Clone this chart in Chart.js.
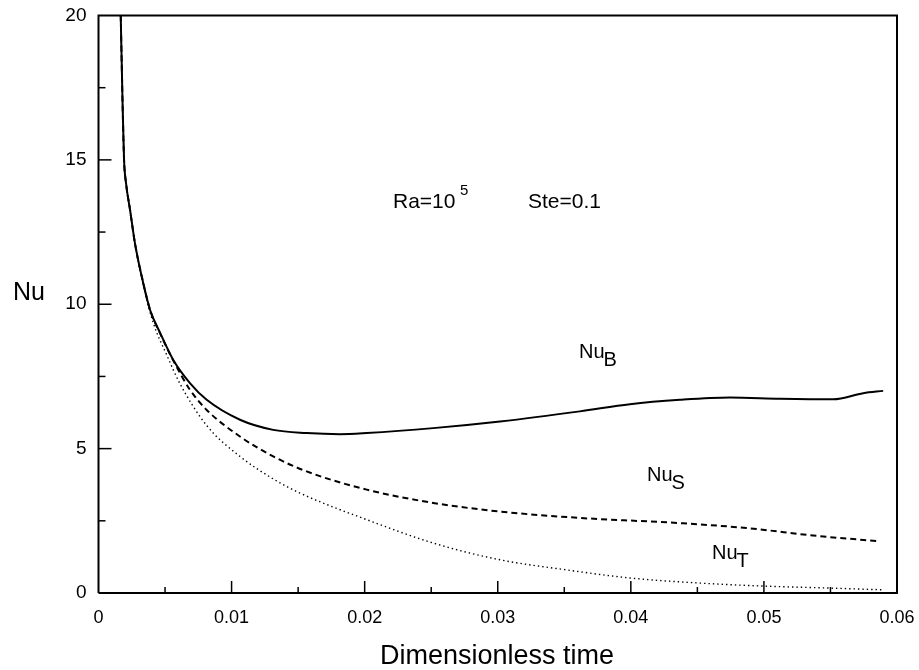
<!DOCTYPE html>
<html>
<head>
<meta charset="utf-8">
<script src="https://cdn.jsdelivr.net/npm/chart.js@4"></script>
<style>
  html, body { margin: 0; padding: 0; background: #fff; }
  #wrap { width: 919px; height: 670px; }
</style>
</head>
<body>
<div id="wrap"><canvas id="myChart"></canvas></div>
<script>
// DATA
const nuB_t = [0.00167, 0.00182, 0.00192, 0.00207, 0.00237, 0.00274, 0.00325, 0.00387, 0.00462, 0.00562, 0.00687, 0.00813, 0.01063, 0.01313, 0.01564, 0.01814, 0.02015, 0.02515, 0.03017, 0.03617, 0.03993, 0.04369, 0.04745, 0.0512, 0.05521, 0.05746, 0.05896];
const nuB = [20, 16.73, 15.0, 14.19, 13.27, 12.11, 10.96, 9.81, 9.02, 8.07, 7.27, 6.69, 6.0, 5.65, 5.54, 5.50, 5.54, 5.71, 5.94, 6.29, 6.54, 6.69, 6.77, 6.73, 6.71, 6.92, 7.0];

const nuS_t = [0.00167, 0.00182, 0.00192, 0.00207, 0.00237, 0.00274, 0.00325, 0.00387, 0.00462, 0.00562, 0.00687, 0.00813, 0.01063, 0.01313, 0.01564, 0.02015, 0.02515, 0.03017, 0.03617, 0.04369, 0.0487, 0.0537, 0.05872];
const nuS = [20, 16.73, 15.0, 14.19, 13.27, 12.11, 10.96, 9.81, 9.0, 8.05, 7.04, 6.34, 5.42, 4.73, 4.21, 3.58, 3.12, 2.82, 2.60, 2.42, 2.25, 1.99, 1.79];

const nuT_t = [0.00167, 0.00182, 0.00192, 0.00207, 0.00237, 0.00274, 0.00325, 0.00412, 0.00512, 0.00612, 0.00813, 0.01063, 0.01313, 0.01514, 0.02015, 0.02515, 0.03017, 0.03518, 0.03993, 0.04494, 0.04995, 0.05496, 0.05896];
const nuT = [20, 16.73, 15.0, 14.19, 13.27, 12.11, 10.9, 9.35, 8.25, 7.25, 5.8, 4.73, 3.95, 3.46, 2.54, 1.73, 1.15, 0.80, 0.52, 0.35, 0.24, 0.17, 0.11];

const xTickLabels = ['0', '0.01', '0.02', '0.03', '0.04', '0.05', '0.06'];
const yTickLabels = ['0', '5', '10', '15', '20'];

const pts = (xs, ys) => xs.map((x, i) => ({ x: x, y: ys[i] }));
const FONT = '"Liberation Sans", Arial, Helvetica, sans-serif';

// inward ticks, frame and text labels
const decor = {
  id: 'decor',
  afterDraw(chart) {
    const c = chart.ctx, a = chart.chartArea;
    const xs = chart.scales.x, ys = chart.scales.y;
    c.save();
    c.strokeStyle = '#000';
    c.lineWidth = 2;
    c.beginPath();
    c.moveTo(a.left, a.bottom); c.lineTo(a.left, a.top); c.lineTo(a.right, a.top);
    c.lineTo(a.right, a.bottom); c.lineTo(a.left, a.bottom);
    c.stroke();
    c.lineWidth = 1.5;
    for (let i = 1; i < 12; i++) {
      const px = xs.getPixelForValue(i * 0.005);
      const len = i % 2 === 0 ? 12 : 6;
      c.beginPath(); c.moveTo(px, a.bottom); c.lineTo(px, a.bottom - len); c.stroke();
    }
    for (let i = 1; i < 8; i++) {
      const py = ys.getPixelForValue(i * 2.5);
      const len = i % 2 === 0 ? 13 : 7;
      c.beginPath(); c.moveTo(a.left, py); c.lineTo(a.left + len, py); c.stroke();
    }
    c.fillStyle = '#000';
    c.textBaseline = 'middle';
    c.textAlign = 'center';
    c.font = '25px ' + FONT;
    c.fillText('Nu', 29, 293);
    c.font = '27px ' + FONT;
    c.fillText('Dimensionless time', 497, 657);
    c.textAlign = 'left';
    c.font = '21px ' + FONT;
    c.fillText('Ra=10', 393, 202);
    c.font = '15px ' + FONT;
    c.fillText('5', 460, 191);
    c.font = '21px ' + FONT;
    c.fillText('Ste=0.1', 528, 202);
    const sub = (x, y, s) => {
      c.font = '20px ' + FONT;
      c.fillText('Nu', x, y);
      const w = c.measureText('Nu').width;
      c.fillText(s, x + w - 1, y + 8);
    };
    sub(579, 352, 'B');
    sub(647, 475, 'S');
    sub(712, 553, 'T');
    c.restore();
  }
};

const ctx = document.getElementById('myChart');

new Chart(ctx, {
  type: 'line',
  data: {
    datasets: [
      { label: 'NuB', data: pts(nuB_t, nuB), borderColor: '#000', borderWidth: 2 },
      { label: 'NuS', data: pts(nuS_t, nuS), borderColor: '#000', borderWidth: 2, borderDash: [6, 4] },
      { label: 'NuT', data: pts(nuT_t, nuT), borderColor: '#000', borderWidth: 1.4, borderDash: [1.4, 3] }
    ]
  },
  options: {
    responsive: true,
    maintainAspectRatio: false,
    animation: false,
    events: [],
    layout: { padding: { top: 15.5, right: 22, left: 0, bottom: 0 } },
    elements: {
      point: { radius: 0 },
      line: { cubicInterpolationMode: 'monotone', fill: false }
    },
    plugins: { legend: { display: false }, tooltip: { enabled: false } },
    scales: {
      x: {
        type: 'linear', min: 0, max: 0.06,
        afterFit: (s) => { s.height = 77; s.paddingLeft = 0; s.paddingRight = 0; },
        grid: { display: false, drawTicks: false },
        border: { display: false },
        ticks: {
          stepSize: 0.01, padding: 14, color: '#000',
          font: { family: FONT, size: 18 },
          callback: (v, i) => xTickLabels[i]
        }
      },
      y: {
        type: 'linear', min: 0, max: 20,
        afterFit: (s) => { s.width = 98.5; s.paddingTop = 0; s.paddingBottom = 0; },
        grid: { display: false, drawTicks: false },
        border: { display: false },
        ticks: {
          stepSize: 5, padding: 12, color: '#000',
          font: { family: FONT, size: 19 },
          callback: (v, i) => yTickLabels[i]
        }
      }
    }
  },
  plugins: [decor]
});
</script>
</body>
</html>
